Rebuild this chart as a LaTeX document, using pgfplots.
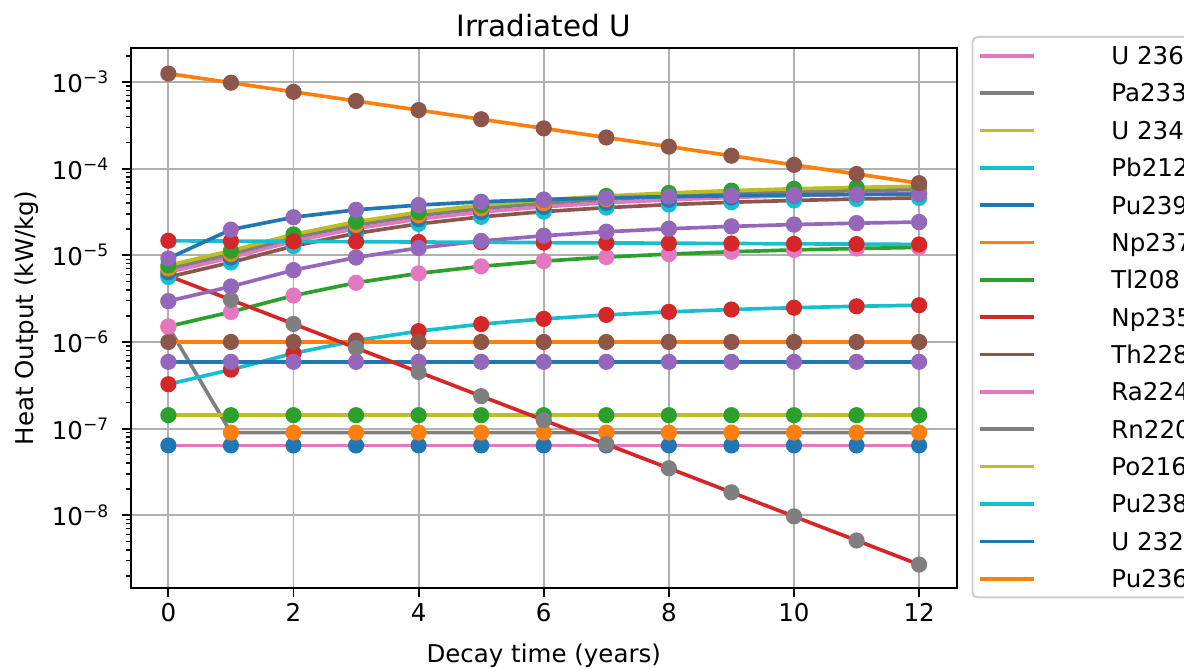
\documentclass[border=0pt]{standalone}
\usepackage{fontspec}
\setmainfont{DejaVu Sans}
\usepackage{pgfplots}
\usepackage{pgfplotstable}
\pgfplotsset{compat=1.18}
\definecolor{tabblue}{HTML}{1F77B4}
\definecolor{taborange}{HTML}{FF7F0E}
\definecolor{tabgreen}{HTML}{2CA02C}
\definecolor{tabred}{HTML}{D62728}
\definecolor{tabpurple}{HTML}{9467BD}
\definecolor{tabbrown}{HTML}{8C564B}
\definecolor{tabpink}{HTML}{E377C2}
\definecolor{tabgray}{HTML}{7F7F7F}
\definecolor{tabolive}{HTML}{BCBD22}
\definecolor{tabcyan}{HTML}{17BECF}
\definecolor{gridgray}{HTML}{B0B0B0}

\pgfplotstableread{
t  U236   Pa233  U234    Pb212    Pu239  Np237  Tl208    Np235    Bi212    Th228    Ra224    Rn220    Po216    Pu238    U232    Pu236
0  6.4e-8 1.5e-6 1.43e-7 3.25e-7  5.9e-7 1.0e-6 1.51e-6  5.8e-6   2.96e-6  5.61e-6  6.38e-6  7.02e-6  7.66e-6  1.47e-5  9.2e-6  1.25e-3
1  6.4e-8 9.0e-8 1.43e-7 4.79e-7  5.9e-7 1.0e-6 2.22e-6  3.061e-6 4.36e-6  8.27e-6  9.40e-6  1.034e-5 1.128e-5 1.458e-5 1.98e-5 9.808e-4
2  6.4e-8 9.0e-8 1.43e-7 7.40e-7  5.9e-7 1.0e-6 3.43e-6  1.615e-6 6.74e-6  1.279e-5 1.453e-5 1.598e-5 1.744e-5 1.447e-5 2.75e-5 7.695e-4
3  6.4e-8 9.0e-8 1.43e-7 1.037e-6 5.9e-7 1.0e-6 4.82e-6  8.52e-7  9.45e-6  1.793e-5 2.037e-5 2.241e-5 2.444e-5 1.435e-5 3.35e-5 6.038e-4
4  6.4e-8 9.0e-8 1.43e-7 1.333e-6 5.9e-7 1.0e-6 6.19e-6  4.50e-7  1.214e-5 2.304e-5 2.618e-5 2.880e-5 3.142e-5 1.424e-5 3.80e-5 4.737e-4
5  6.4e-8 9.0e-8 1.43e-7 1.606e-6 5.9e-7 1.0e-6 7.46e-6  2.37e-7  1.463e-5 2.776e-5 3.155e-5 3.471e-5 3.786e-5 1.412e-5 4.15e-5 3.717e-4
6  6.4e-8 9.0e-8 1.43e-7 1.847e-6 5.9e-7 1.0e-6 8.57e-6  1.253e-7 1.682e-5 3.193e-5 3.628e-5 3.991e-5 4.354e-5 1.401e-5 4.40e-5 2.916e-4
7  6.4e-8 9.0e-8 1.43e-7 2.052e-6 5.9e-7 1.0e-6 9.53e-6  6.61e-8  1.869e-5 3.548e-5 4.032e-5 4.435e-5 4.838e-5 1.390e-5 4.60e-5 2.288e-4
8  6.4e-8 9.0e-8 1.43e-7 2.225e-6 5.9e-7 1.0e-6 1.033e-5 3.49e-8  2.026e-5 3.846e-5 4.370e-5 4.807e-5 5.244e-5 1.379e-5 4.75e-5 1.795e-4
9  6.4e-8 9.0e-8 1.43e-7 2.368e-6 5.9e-7 1.0e-6 1.099e-5 1.84e-8  2.156e-5 4.093e-5 4.651e-5 5.116e-5 5.581e-5 1.368e-5 4.87e-5 1.409e-4
10 6.4e-8 9.0e-8 1.43e-7 2.485e-6 5.9e-7 1.0e-6 1.154e-5 9.71e-9  2.263e-5 4.296e-5 4.882e-5 5.370e-5 5.858e-5 1.357e-5 4.96e-5 1.105e-4
11 6.4e-8 9.0e-8 1.43e-7 2.580e-6 5.9e-7 1.0e-6 1.198e-5 5.12e-9  2.350e-5 4.461e-5 5.069e-5 5.576e-5 6.083e-5 1.346e-5 5.03e-5 8.67e-5
12 6.4e-8 9.0e-8 1.43e-7 2.657e-6 5.9e-7 1.0e-6 1.233e-5 2.70e-9  2.419e-5 4.592e-5 5.218e-5 5.740e-5 6.262e-5 1.335e-5 5.08e-5 6.80e-5
}\data

\pgfplotsset{
  mk/.style={only marks, mark=*, mark size=3pt, line width=0.6pt, forget plot},
  ln/.style={no marks, line width=1.5pt},
}

\begin{document}
\begin{tikzpicture}
\useasboundingbox (-53.4pt,-32.9pt) rectangle (429.9pt,240.1pt);
\begin{axis}[
  at={(0pt,0pt)}, anchor=south west,
  scale only axis, width=337.1pt, height=220.4pt,
  xmin=-0.6, xmax=12.6,
  ymode=log, log basis y=10, ymin=1.44e-9, ymax=2.45e-3,
  xtick={0,2,4,6,8,10,12},
  xticklabels={0,2,4,6,8,10,12},
  ytick={1e-8,1e-7,1e-6,1e-5,1e-4,1e-3},
  yticklabels={10\textsuperscript{−8},10\textsuperscript{−7},10\textsuperscript{−6},10\textsuperscript{−5},10\textsuperscript{−4},10\textsuperscript{−3}},
  minor ytick={2e-9,3e-9,4e-9,5e-9,6e-9,7e-9,8e-9,9e-9,
               2e-8,3e-8,4e-8,5e-8,6e-8,7e-8,8e-8,9e-8,
               2e-7,3e-7,4e-7,5e-7,6e-7,7e-7,8e-7,9e-7,
               2e-6,3e-6,4e-6,5e-6,6e-6,7e-6,8e-6,9e-6,
               2e-5,3e-5,4e-5,5e-5,6e-5,7e-5,8e-5,9e-5,
               2e-4,3e-4,4e-4,5e-4,6e-4,7e-4,8e-4,9e-4,2e-3},
  tick pos=left, tick align=outside,
  major tick length=3.5pt, minor tick length=2pt,
  every tick/.style={black, line width=0.8pt},
  minor tick style={black, line width=0.6pt},
  grid=major,
  major grid style={gridgray, line width=0.8pt},
  axis line style={black, line width=0.8pt},
  every tick label/.append style={font=\fontsize{10}{12}\selectfont},
  xticklabel style={anchor=base, inner sep=0pt, yshift=-10pt},
  yticklabel style={anchor=east, inner sep=0pt, xshift=-5pt},
  title={Irradiated U},
  every axis title shift=0pt,
  title style={at={(axis description cs:0.5,1.0209)}, anchor=base, yshift=0pt, inner sep=0pt, font=\fontsize{12}{14}\selectfont},
  xlabel={Decay time (years)},
  xlabel style={at={(axis description cs:0.5,-0.1384)}, anchor=base, inner sep=0pt, font=\fontsize{10}{12}\selectfont},
  ylabel={Heat Output (kW/kg)},
  ylabel style={at={(axis description cs:-0.1184,0.5)}, anchor=base, inner sep=0pt, font=\fontsize{10}{12}\selectfont},
  legend cell align=left,
  legend image code/.code={\draw[#1] (0pt,0pt) -- (22.2pt,0pt);},
  legend style={at={(axis description cs:1.018,1.0228)}, anchor=north west,
    draw=black!20, line width=0.8pt, rounded corners=2pt, fill=white,
    inner xsep=2.3pt, inner ysep=4pt, row sep=7.95pt, column sep=30.7pt,
    font=\fontsize{10}{12}\selectfont,
    nodes={inner sep=0pt, text height=7.3pt, text depth=0pt}},
]
% scatter markers
\addplot[mk, tabblue]   table[x=t,y=U236]{\data};
\addplot[mk, taborange] table[x=t,y=Pa233]{\data};
\addplot[mk, tabgreen]  table[x=t,y=U234]{\data};
\addplot[mk, tabred]    table[x=t,y=Pb212]{\data};
\addplot[mk, tabpurple] table[x=t,y=Pu239]{\data};
\addplot[mk, tabbrown]  table[x=t,y=Np237]{\data};
\addplot[mk, tabpink]   table[x=t,y=Tl208]{\data};
\addplot[mk, tabgray]   table[x=t,y=Np235]{\data};
\addplot[mk, tabolive]  table[x=t,y=Bi212]{\data};
\addplot[mk, tabcyan]   table[x=t,y=Th228]{\data};
\addplot[mk, tabblue]   table[x=t,y=Ra224]{\data};
\addplot[mk, taborange] table[x=t,y=Rn220]{\data};
\addplot[mk, tabgreen]  table[x=t,y=Po216]{\data};
\addplot[mk, tabred]    table[x=t,y=Pu238]{\data};
\addplot[mk, tabpurple] table[x=t,y=U232]{\data};
\addplot[mk, tabbrown]  table[x=t,y=Pu236]{\data};
% lines
\addplot[ln, tabpink]   table[x=t,y=U236]{\data};  \addlegendentry{U 236}
\addplot[ln, tabgray]   table[x=t,y=Pa233]{\data}; \addlegendentry{Pa233}
\addplot[ln, tabolive]  table[x=t,y=U234]{\data};  \addlegendentry{U 234}
\addplot[ln, tabcyan]   table[x=t,y=Pb212]{\data}; \addlegendentry{Pb212}
\addplot[ln, tabblue]   table[x=t,y=Pu239]{\data}; \addlegendentry{Pu239}
\addplot[ln, taborange] table[x=t,y=Np237]{\data}; \addlegendentry{Np237}
\addplot[ln, tabgreen]  table[x=t,y=Tl208]{\data}; \addlegendentry{Tl208}
\addplot[ln, tabred]    table[x=t,y=Np235]{\data}; \addlegendentry{Np235}
\addplot[tabpurple, line width=1.5pt, mark=*, mark size=3pt, mark options={line width=0.6pt}, forget plot] table[x=t,y=Bi212]{\data};
\addplot[ln, tabbrown]  table[x=t,y=Th228]{\data}; \addlegendentry{Th228}
\addplot[ln, tabpink]   table[x=t,y=Ra224]{\data}; \addlegendentry{Ra224}
\addplot[ln, tabgray]   table[x=t,y=Rn220]{\data}; \addlegendentry{Rn220}
\addplot[ln, tabolive]  table[x=t,y=Po216]{\data}; \addlegendentry{Po216}
\addplot[ln, tabcyan]   table[x=t,y=Pu238]{\data}; \addlegendentry{Pu238}
\addplot[ln, tabblue]   table[x=t,y=U232]{\data};  \addlegendentry{U 232}
\addplot[ln, taborange] table[x=t,y=Pu236]{\data}; \addlegendentry{Pu236}
\end{axis}
\end{tikzpicture}
\end{document}
